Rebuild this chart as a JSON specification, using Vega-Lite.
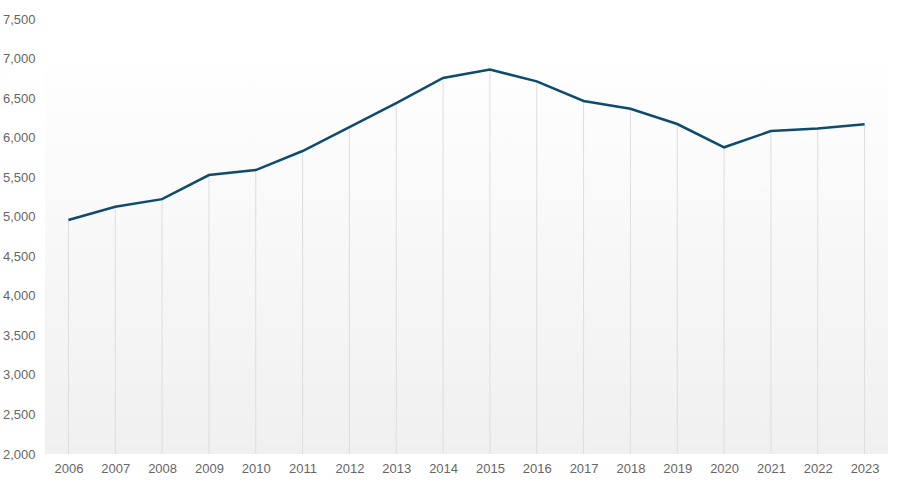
{
  "$schema": "https://vega.github.io/schema/vega-lite/v6.json",
  "autosize": "none",
  "width": 843,
  "height": 435,
  "padding": {"left": 45, "top": 19, "right": 12, "bottom": 34},
  "background": "white",
  "config": {"view": {"stroke": null}, "axis": {"labelFont": "Liberation Sans", "labelFontSize": 13, "labelColor": "#666666", "labelOverlap": false}},
  "data": {"values": [
    {"year": 2006, "value": 4958},
    {"year": 2007, "value": 5125},
    {"year": 2008, "value": 5222},
    {"year": 2009, "value": 5527},
    {"year": 2010, "value": 5590},
    {"year": 2011, "value": 5831},
    {"year": 2012, "value": 6134},
    {"year": 2013, "value": 6437},
    {"year": 2014, "value": 6755},
    {"year": 2015, "value": 6860},
    {"year": 2016, "value": 6712},
    {"year": 2017, "value": 6463},
    {"year": 2018, "value": 6365},
    {"year": 2019, "value": 6172},
    {"year": 2020, "value": 5878},
    {"year": 2021, "value": 6083},
    {"year": 2022, "value": 6115},
    {"year": 2023, "value": 6168}
  ]},
  "layer": [
    {
      "mark": {"type": "rect", "color": {"gradient": "linear", "x1": 0, "y1": 0, "x2": 0, "y2": 1, "stops": [{"offset": 0, "color": "#fefefe"}, {"offset": 1, "color": "#f0f0f0"}]}},
      "encoding": {
        "x": {"datum": 2005.5, "type": "quantitative",
          "scale": {"domain": [2005.5, 2023.5], "nice": false, "zero": false},
          "axis": {"title": null, "values": [2006,2007,2008,2009,2010,2011,2012,2013,2014,2015,2016,2017,2018,2019,2020,2021,2022,2023], "format": "d", "domain": false, "ticks": false, "grid": false, "labelPadding": 8}},
        "x2": {"datum": 2023.5},
        "y": {"aggregate": "max", "field": "value", "type": "quantitative",
          "scale": {"domain": [2000, 7500], "nice": false, "zero": false},
          "axis": {"title": null, "values": [2000,2500,3000,3500,4000,4500,5000,5500,6000,6500,7000,7500], "format": ",d", "domain": false, "ticks": false, "grid": false, "labelPadding": 10}},
        "y2": {"datum": 2000}
      }
    },
    {
      "mark": {"type": "rule", "color": "#dddddd", "strokeWidth": 1},
      "encoding": {
        "x": {"field": "year", "type": "quantitative",
          "scale": {"domain": [2005.5, 2023.5], "nice": false, "zero": false},
          "axis": {"title": null, "values": [2006,2007,2008,2009,2010,2011,2012,2013,2014,2015,2016,2017,2018,2019,2020,2021,2022,2023], "format": "d", "domain": false, "ticks": false, "grid": false, "labelPadding": 8}},
        "y": {"field": "value", "type": "quantitative",
          "scale": {"domain": [2000, 7500], "nice": false, "zero": false},
          "axis": {"title": null, "values": [2000,2500,3000,3500,4000,4500,5000,5500,6000,6500,7000,7500], "format": ",d", "domain": false, "ticks": false, "grid": false, "labelPadding": 10}},
        "y2": {"datum": 2000}
      }
    },
    {
      "mark": {"type": "line", "color": "#0e4c6d", "strokeWidth": 2.5},
      "encoding": {
        "x": {"field": "year", "type": "quantitative",
          "scale": {"domain": [2005.5, 2023.5], "nice": false, "zero": false},
          "axis": {"title": null, "values": [2006,2007,2008,2009,2010,2011,2012,2013,2014,2015,2016,2017,2018,2019,2020,2021,2022,2023], "format": "d", "domain": false, "ticks": false, "grid": false, "labelPadding": 8}},
        "y": {"field": "value", "type": "quantitative",
          "scale": {"domain": [2000, 7500], "nice": false, "zero": false},
          "axis": {"title": null, "values": [2000,2500,3000,3500,4000,4500,5000,5500,6000,6500,7000,7500], "format": ",d", "domain": false, "ticks": false, "grid": false, "labelPadding": 10}}
      }
    }
  ]
}
